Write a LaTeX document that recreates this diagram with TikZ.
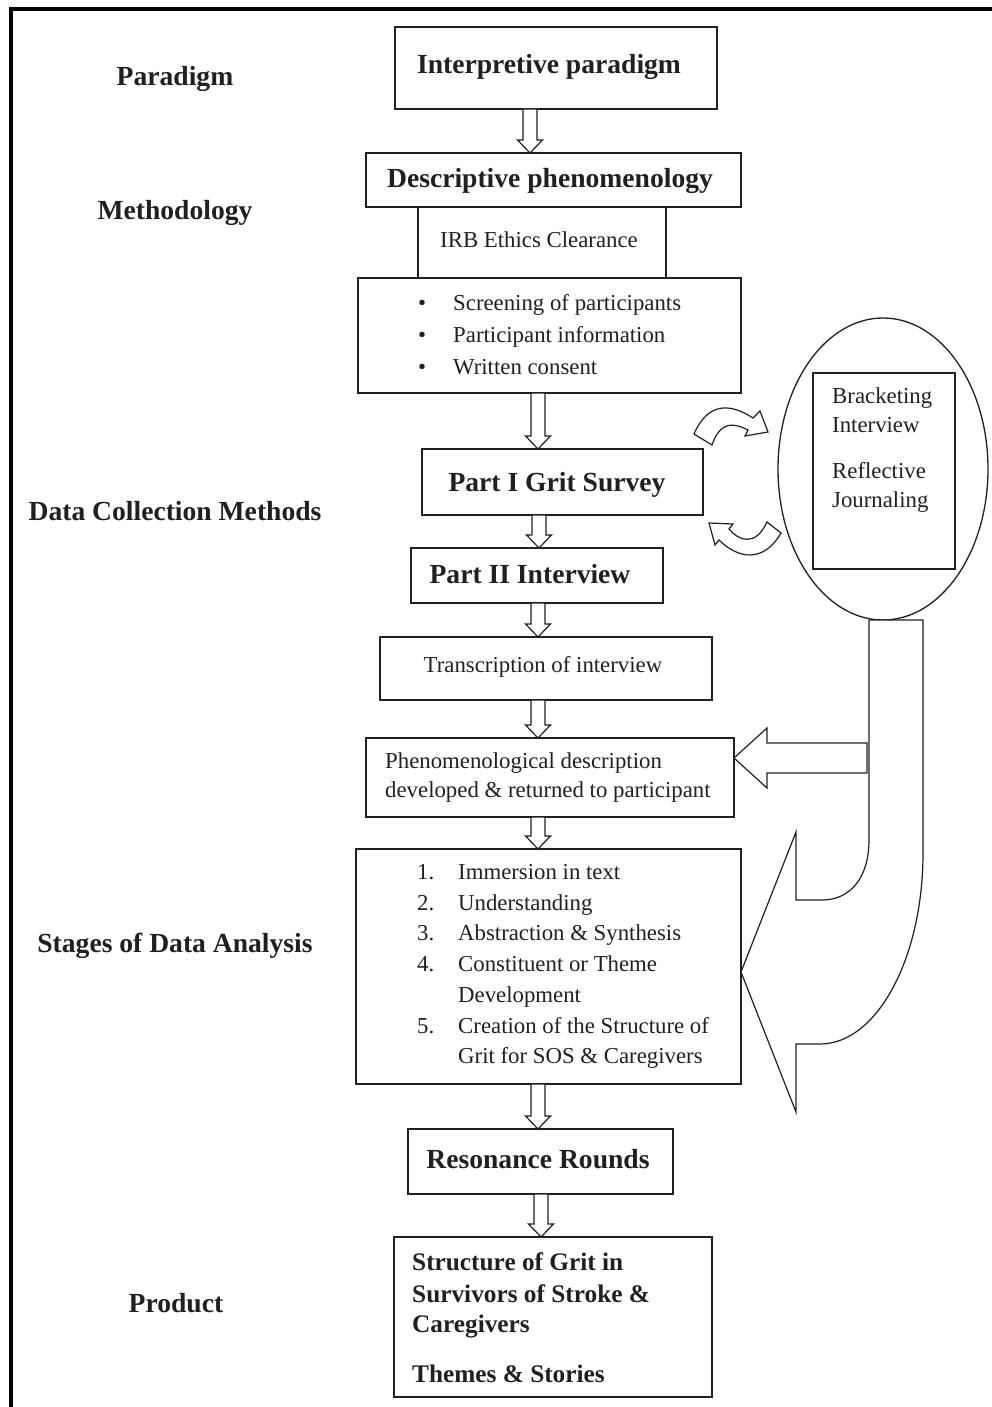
\documentclass[tikz,border=0pt]{standalone}
\usepackage{fontspec}
\setmainfont{Liberation Serif}
\usetikzlibrary{shapes.geometric,calc}
\definecolor{ink}{RGB}{35,31,32}
\newcommand{\rgf}{\fontsize{22.8}{30}\selectfont}
\newcommand{\bdf}{\fontsize{27.6}{33}\selectfont\bfseries}
\newcommand{\bpf}{\fontsize{25.3}{31}\selectfont\bfseries}
\newcommand{\blkarrow}[3]{%
  \draw[blk] let \p1=(#1.south), \p2=(#2.north) in
    ({#3pt-7pt},{\y1}) -- ({#3pt+7pt},{\y1}) -- ({#3pt+7pt},{\y2+13pt}) -- ({#3pt+12.5pt},{\y2+13pt})
    -- ({#3pt},{\y2}) -- ({#3pt-12.5pt},{\y2+13pt}) -- ({#3pt-7pt},{\y2+13pt}) -- cycle;}
\begin{document}
\begin{tikzpicture}[x=1pt,y=-1pt,
  box/.style={draw=ink, line width=1.4pt, anchor=north west, inner sep=0pt, outer sep=0pt},
  blk/.style={draw=ink, line width=1.2pt, fill=white, line join=miter},
  shp/.style={draw=ink, line width=1.2pt, fill=white},
  lbl/.style={anchor=base, font=\bdf, text=ink, inner sep=0pt},
  ctb/.style={anchor=base, font=\bdf, text=ink, inner sep=0pt},
  ctr/.style={anchor=base, font=\rgf, text=ink, inner sep=0pt},
  lfr/.style={anchor=base west, font=\rgf, text=ink, inner sep=0pt},
  lfb/.style={anchor=base west, font=\bpf, text=ink, inner sep=0pt}]
\useasboundingbox (0,0) rectangle (992,1407);
\fill[white] (0,0) rectangle (992,1407);
% frame
\draw[black, line width=3.2pt] (11,1407) -- (11,9) -- (992,9);

% left labels
\node[lbl] (lpar) at (175,86) {Paradigm};
\node[lbl] (lmet) at (175,219) {Methodology};
\node[lbl] (ldat) at (175,520) {Data Collection Methods};
\node[lbl] (lsta) at (175,952) {Stages of Data Analysis};
\node[lbl] (lpro) at (176,1312) {Product};

% boxes
\node[box, minimum width=322, minimum height=82] (interp) at (395,27) {};
\node[box, minimum width=375, minimum height=54] (desc) at (366,153) {};
\node[box, minimum width=248, minimum height=71] (irb) at (418,207) {};
\node[box, minimum width=383, minimum height=115] (bul) at (358,278) {};
\node[box, minimum width=281, minimum height=66] (p1) at (422,449) {};
\node[box, minimum width=252, minimum height=55] (p2) at (411,548) {};
\node[box, minimum width=332, minimum height=63] (trans) at (380,637) {};
\node[box, minimum width=368, minimum height=79] (phen) at (366,738) {};
\node[box, minimum width=385, minimum height=235] (stages) at (356,849) {};
\node[box, minimum width=265, minimum height=65] (reson) at (408,1129) {};
\node[box, minimum width=318, minimum height=160] (prod) at (394,1237) {};

% box texts
\node[ctb] (tinterp) at (549,74) {Interpretive paradigm};
\node[ctb] (tdesc) at (550,188) {Descriptive phenomenology};
\node[ctr] (tirb) at (539,247) {IRB Ethics Clearance};
\node[ctr] (b1) at (422,310) {\textbullet};
\node[ctr] (b2) at (422,342) {\textbullet};
\node[ctr] (b3) at (422,374) {\textbullet};
\node[lfr] (tb1) at (453,310) {Screening of participants};
\node[lfr] (tb2) at (453,342) {Participant information};
\node[lfr] (tb3) at (453,374) {Written consent};
\node[ctb] (tp1) at (557,491) {Part I Grit Survey};
\node[ctb] (tp2) at (530,583) {Part II Interview};
\node[ctr] (ttrans) at (543,672) {Transcription of interview};
\node[lfr] (tph1) at (385,768) {Phenomenological description};
\node[lfr] (tph2) at (385,797) {developed \& returned to participant};
\node[lfr] (n1) at (417,879) {1.};
\node[lfr] (n2) at (417,910) {2.};
\node[lfr] (n3) at (417,940) {3.};
\node[lfr] (n4) at (417,971) {4.};
\node[lfr] (n5) at (417,1033) {5.};
\node[lfr] (s1) at (458,879) {Immersion in text};
\node[lfr] (s2) at (458,910) {Understanding};
\node[lfr] (s3) at (458,940) {Abstraction \& Synthesis};
\node[lfr] (s4) at (458,971) {Constituent or Theme};
\node[lfr] (s4b) at (458,1002) {Development};
\node[lfr] (s5) at (458,1033) {Creation of the Structure of};
\node[lfr] (s5b) at (458,1063) {Grit for SOS \& Caregivers};
\node[ctb] (treson) at (538,1168) {Resonance Rounds};
\node[lfb] (tpr1) at (412,1270) {Structure of Grit in};
\node[lfb] (tpr2) at (412,1302) {Survivors of Stroke \&};
\node[lfb] (tpr3) at (412,1332) {Caregivers};
\node[lfb] (tpr4) at (412,1382) {Themes \& Stories};

% ellipse with inner box
\node[draw=ink, line width=1.3pt, ellipse, minimum width=210, minimum height=302, inner sep=0pt] (ell) at (883,469) {};
\node[box, minimum width=142, minimum height=196] (brk) at (813,373) {};
\node[lfr] (e1) at (832,403) {Bracketing};
\node[lfr] (e2) at (832,432) {Interview};
\node[lfr] (e3) at (832,478) {Reflective};
\node[lfr] (e4) at (832,507) {Journaling};

% block arrows down
\blkarrow{interp}{desc}{530}
\blkarrow{bul}{p1}{538}
\blkarrow{p1}{p2}{539}
\blkarrow{p2}{trans}{538}
\blkarrow{trans}{phen}{538}
\blkarrow{phen}{stages}{538}
\blkarrow{stages}{reson}{538}
\blkarrow{reson}{prod}{541}

% curved arrows between survey and bracketing
\draw[shp, line join=miter] (694,434) -- (712,445)
  .. controls (718,428) and (727,419) .. (748,430)
  -- (745,436) -- (768,432) -- (760,411) -- (753,418)
  .. controls (730,403) and (708,402) .. (694,434) -- cycle;
\draw[shp, line join=miter] (709,523) -- (733,524) -- (729,529)
  .. controls (738,540) and (755,548) .. (767,522)
  -- (781,533)
  .. controls (768,556) and (745,565) .. (719,540)
  -- (715,545) -- cycle;

% big U-shaped arrow
\coordinate (ua) at (869,620);
\draw[shp, line join=miter] (ua) -- (923,620) -- (923,853)
  .. controls (923,958) and (877,1044) .. (820,1044)
  -- (796,1044) -- (796,1112) -- (741,972) -- (796,832) -- (796,900) -- (822,900)
  .. controls (850,900) and (869,878) .. (869,840) -- cycle;

% left block arrow into phenomenological description
\draw[shp, line join=miter] (867,743) -- (767,743) -- (767,728) -- (734,758) -- (767,788) -- (767,773) -- (867,773) -- cycle;
\end{tikzpicture}
\end{document}
